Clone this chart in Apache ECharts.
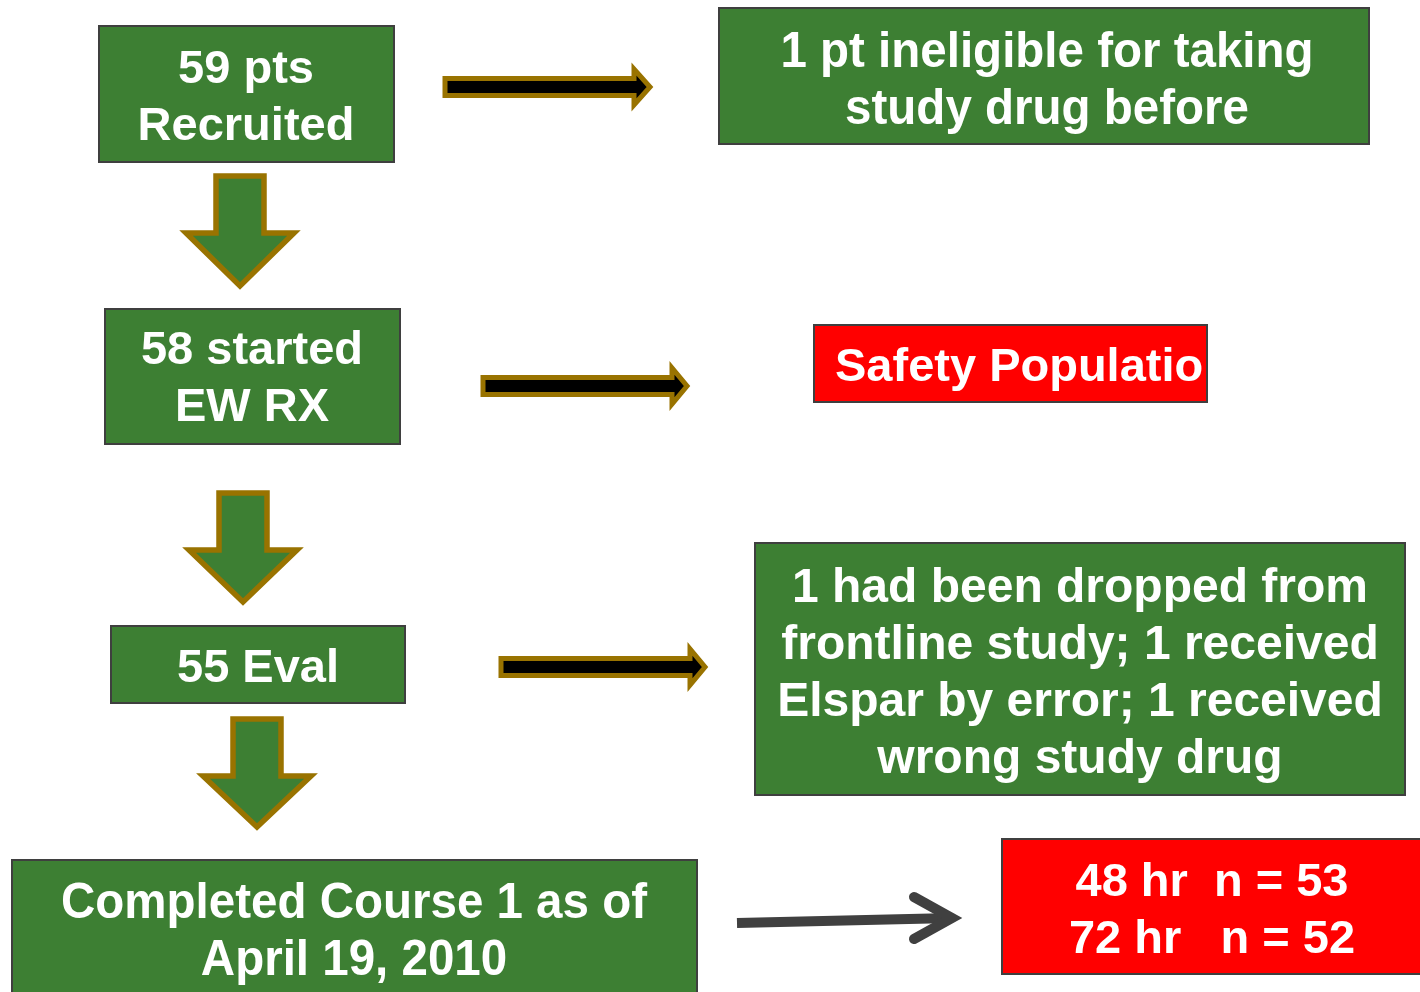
<!DOCTYPE html>
<html>
<head>
<meta charset="utf-8">
<title>Flow</title>
<script src="https://cdn.jsdelivr.net/npm/echarts@6/dist/echarts.min.js"></script>
<style>
  html, body { margin: 0; padding: 0; background: #fff; }
  #main { width: 1420px; height: 992px; }
</style>
</head>
<body>
<div id="main"></div>
<script>
// texts of the boxes
var boxLines = [
  ['59 pts', 'Recruited'],
  ['1 pt ineligible for taking', 'study drug before'],
  ['58 started', 'EW RX'],
  ['Safety Population'],
  ['55 Eval'],
  ['1 had been dropped from', 'frontline study; 1 received', 'Elspar by error; 1 received', 'wrong study drug'],
  ['Completed Course 1 as of', 'April 19, 2010'],
  ['48 hr  n = 53', '72 hr   n = 52']
];
var boxKind = ['green', 'green', 'green', 'red', 'green', 'green', 'green', 'red'];

// layout (pixel space of the hidden axes)
var boxFrames = [
  [99, 26, 394, 162], [719, 8, 1369, 144], [105, 309, 400, 444], [814, 325, 1207, 402],
  [111, 626, 405, 703], [755, 543, 1405, 795], [12, 860, 697, 1010], [1002, 839, 1430, 974]
];
var textCenters = [[246, 99], [1047, 82], [252, 380], [835, 368], [258, 669], [1080, 674], [354, 933], [1212, 912]];
var textSize = [47, 50, 47, 47, 47, 48, 50, 47];
var textScale = [1, 0.95, 1, 1, 1, 1, 0.95, 1];
var downArrows = [[240, 176, 233, 286], [243, 493, 550, 602], [257, 719, 776, 827]]; // cx, top, headY, tip
var rightArrows = [[445, 87, 634, 650], [483, 386, 672, 687], [501, 667, 690, 705]]; // left, cy, headX, tip
var lineArrow = [[737, 923], [952, 918]];

var colors = { green: '#3D7F33', red: '#FF0000', border: '#3F3F3F', olive: '#997300' };

function renderBox(params, api) {
  var i = params.dataIndex;
  var f = boxFrames[i];
  var p0 = api.coord([f[0], f[1]]), p1 = api.coord([f[2], f[3]]);
  var shape = { x: p0[0], y: p0[1], width: p1[0] - p0[0], height: p1[1] - p0[1] };
  var c = api.coord(textCenters[i]);
  var children = [
    { type: 'rect', shape: shape, style: { fill: colors[boxKind[i]] } },
    {
      type: 'text', x: c[0], y: c[1], scaleX: textScale[i],
      style: {
        text: boxLines[i].join('\n'), fill: '#fff',
        font: 'bold ' + textSize[i] + 'px "Liberation Sans", Arial, sans-serif',
        align: i === 3 ? 'left' : 'center', verticalAlign: 'middle', lineHeight: 57
      }
    }
  ];
  if (i === 3) {
    // text runs past the box edge and is cut off there
    children.push({ type: 'rect', shape: { x: p1[0], y: p0[1] - 10, width: 200, height: shape.height + 20 }, style: { fill: '#fff' } });
  }
  children.push({ type: 'rect', shape: shape, style: { fill: 'none', stroke: colors.border, lineWidth: 2 } });
  return { type: 'group', children: children };
}

function renderDown(params, api) {
  var a = downArrows[params.dataIndex];
  var sw = 24, hw = 54;
  var pts = [[a[0] - sw, a[1]], [a[0] + sw, a[1]], [a[0] + sw, a[2]], [a[0] + hw, a[2]],
             [a[0], a[3]], [a[0] - hw, a[2]], [a[0] - sw, a[2]]].map(function (p) { return api.coord(p); });
  return { type: 'polygon', shape: { points: pts }, style: { fill: colors.green, stroke: colors.olive, lineWidth: 5.5, lineJoin: 'miter' } };
}

function renderRight(params, api) {
  var a = rightArrows[params.dataIndex];
  var sh = 8.5, hh = 18;
  var pts = [[a[0], a[1] - sh], [a[2], a[1] - sh], [a[2], a[1] - hh], [a[3], a[1]],
             [a[2], a[1] + hh], [a[2], a[1] + sh], [a[0], a[1] + sh]].map(function (p) { return api.coord(p); });
  return { type: 'polygon', shape: { points: pts }, style: { fill: '#000', stroke: colors.olive, lineWidth: 5, lineJoin: 'miter' } };
}

function renderLine(params, api) {
  var s = api.coord(lineArrow[0]), e = api.coord(lineArrow[1]);
  return {
    type: 'group', children: [
      { type: 'polyline', shape: { points: [s, e] }, style: { stroke: '#404040', lineWidth: 10, lineCap: 'butt' } },
      { type: 'polyline', shape: { points: [api.coord([914, 897]), e, api.coord([914, 939])] },
        style: { stroke: '#404040', lineWidth: 10, lineCap: 'round', lineJoin: 'miter', fill: 'none' } }
    ]
  };
}

var chart = echarts.init(document.getElementById('main'));
chart.setOption({
  animation: false,
  backgroundColor: '#fff',
  grid: { left: 0, right: 0, top: 0, bottom: 0 },
  xAxis: { type: 'value', min: 0, max: 1420, show: false },
  yAxis: { type: 'value', min: 0, max: 992, inverse: true, show: false },
  series: [
    { type: 'custom', clip: false, silent: true, renderItem: renderDown, data: downArrows.map(function (a) { return [a[0], a[1]]; }) },
    { type: 'custom', clip: false, silent: true, renderItem: renderRight, data: rightArrows.map(function (a) { return [a[0], a[1]]; }) },
    { type: 'custom', clip: false, silent: true, renderItem: renderLine, data: [lineArrow[0]] },
    { type: 'custom', clip: false, silent: true, renderItem: renderBox, data: boxFrames.map(function (f) { return [f[0], f[1]]; }) }
  ]
});
</script>
</body>
</html>
